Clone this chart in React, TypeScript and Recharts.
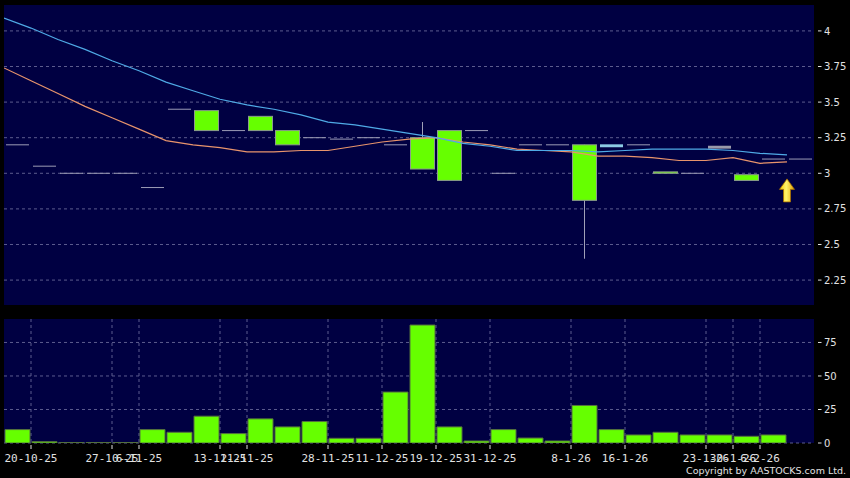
import React from "react";
import {
  ComposedChart,
  Bar,
  Line,
  XAxis,
  YAxis,
  CartesianGrid,
  ReferenceDot,
} from "recharts";

// slot index 0..29, one candle per slot
const opens = [3.2, 3.05, 3.0, 3.0, 3.0, 2.9, 3.45, 3.44, 3.3, 3.3, 3.3, 3.25, 3.24, 3.25, 3.2, 3.25, 2.95, 3.3, 3.0, 3.2, 3.2, 3.2, 3.2, 3.2, 3.01, 3.0, 3.19, 2.99, 3.1, 3.1];
const closes = [3.2, 3.05, 3.0, 3.0, 3.0, 2.9, 3.45, 3.3, 3.3, 3.4, 3.2, 3.25, 3.24, 3.25, 3.2, 3.03, 3.3, 3.3, 3.0, 3.2, 3.2, 2.81, 3.19, 3.2, 3.0, 3.0, 3.18, 2.95, 3.1, 3.1];
const highs = [3.2, 3.05, 3.0, 3.0, 3.0, 2.9, 3.45, 3.44, 3.3, 3.4, 3.3, 3.25, 3.24, 3.25, 3.2, 3.36, 3.3, 3.3, 3.0, 3.2, 3.2, 3.2, 3.2, 3.2, 3.01, 3.0, 3.19, 2.99, 3.1, 3.1];
const lows = [3.2, 3.05, 3.0, 3.0, 3.0, 2.9, 3.45, 3.3, 3.3, 3.3, 3.2, 3.25, 3.24, 3.25, 3.2, 3.03, 2.95, 3.3, 3.0, 3.2, 3.2, 2.4, 3.19, 3.2, 3.0, 3.0, 3.18, 2.95, 3.1, 3.1];
const volumes = [10, 1, 0.3, 0.3, 0.3, 10, 8, 20, 7, 18, 12, 16, 3.5, 3.5, 38, 88, 12, 1.5, 10, 3.7, 1.5, 28, 10, 6, 8, 6, 6, 5, 6, 0];

// moving averages, sampled at slot boundaries 0..29
const maBlue = [4.09, 4.02, 3.94, 3.87, 3.79, 3.72, 3.64, 3.58, 3.52, 3.48, 3.45, 3.41, 3.36, 3.34, 3.31, 3.28, 3.25, 3.21, 3.19, 3.16, 3.16, 3.16, 3.15, 3.16, 3.17, 3.17, 3.17, 3.16, 3.14, 3.13];
const maOrange = [3.74, 3.65, 3.56, 3.47, 3.39, 3.31, 3.23, 3.2, 3.18, 3.15, 3.15, 3.16, 3.16, 3.19, 3.22, 3.24, 3.25, 3.22, 3.2, 3.17, 3.16, 3.15, 3.12, 3.12, 3.11, 3.09, 3.09, 3.11, 3.07, 3.08];

const dateLabels = ["20-10-25", "27-10-25", "6-11-25", "13-11-25", "21-11-25", "28-11-25", "11-12-25", "19-12-25", "31-12-25", "8-1-26", "16-1-26", "23-1-26", "30-1-26", "6-2-26"];
const datePos = [1, 4, 5, 8, 9, 12, 14, 16, 18, 21, 23, 26, 27, 28];

const priceTicks = [2.25, 2.5, 2.75, 3, 3.25, 3.5, 3.75, 4];
const volTicks = [0, 25, 50, 75];

const P_MIN = 2.075;
const P_MAX = 4.182;
const V_MAX = 92.5;
const SLOTS = 30;

const candles = opens.map((o, i) => ({
  x: i + 0.5,
  open: o,
  close: closes[i],
  high: highs[i],
  low: lows[i],
  vol: volumes[i],
}));
const maData = maBlue.map((v, k) => ({ x: k, blue: v, orange: maOrange[k] }));

const thinBodyTint: Record<number, string> = { 22: "#8ccbe4", 26: "#9a9aaa" };

const PLOT_BG = "#000042";
const GRID = "#5c5c8e";
const TEXT = "#e2e2e2";
const GREEN = "#66ff00";
const TOP_MARGIN = { top: 5, right: 0, left: 4, bottom: 0 };

function CandleShape(props: any) {
  const { x, y, width, height, payload, index } = props;
  const top = Math.min(y, y + height);
  const bottom = Math.max(y, y + height);
  const per = (bottom - top) / (payload.high - P_MIN);
  const py = (v: number) => top + (payload.high - v) * per;
  const cx = x + width / 2;
  const hi = Math.max(payload.open, payload.close);
  const lo = Math.min(payload.open, payload.close);
  const bTop = py(hi);
  const bBot = py(lo);
  const parts: React.ReactNode[] = [];
  if (payload.high > hi || payload.low < lo) {
    parts.push(
      <line key="w" x1={cx} x2={cx} y1={py(payload.high)} y2={py(payload.low)} stroke="#a0a0b8" strokeWidth={1} />
    );
  }
  if (hi === lo) {
    parts.push(
      <line key="d" x1={x + 1} x2={x + width - 1} y1={bTop} y2={bTop} stroke="#9c9cb6" strokeWidth={1} />
    );
  } else if (thinBodyTint[index]) {
    parts.push(
      <rect key="t" x={x + 1} y={bTop - 0.5} width={width - 2} height={bBot - bTop + 1.5} fill={thinBodyTint[index]} />
    );
  } else {
    parts.push(
      <rect key="b" x={x + 0.5} y={bTop} width={width - 1} height={bBot - bTop} fill={GREEN} stroke="#8c9c8c" strokeWidth={1} />
    );
  }
  return <g>{parts}</g>;
}

function Arrow(props: any) {
  const { cx, cy } = props;
  const pts = [
    [cx, cy - 11.5],
    [cx + 7.5, cy - 1],
    [cx + 3.5, cy - 1],
    [cx + 3.5, cy + 11.5],
    [cx - 3.5, cy + 11.5],
    [cx - 3.5, cy - 1],
    [cx - 7.5, cy - 1],
  ]
    .map((p) => p.join(","))
    .join(" ");
  return (
    <g>
      <defs>
        <linearGradient id="arrowFill" x1="0" y1="0" x2="1" y2="0">
          <stop offset="0%" stopColor="#f7c800" />
          <stop offset="45%" stopColor="#fff36a" />
          <stop offset="100%" stopColor="#e0a000" />
        </linearGradient>
      </defs>
      <polygon points={pts} fill="url(#arrowFill)" stroke="#a87000" strokeWidth={0.8} />
    </g>
  );
}

function RightTick(props: any) {
  const { x, y, payload } = props;
  return (
    <g>
      <line x1={x + 4} x2={x + 7.5} y1={y} y2={y} stroke={TEXT} strokeWidth={1} />
      <text x={x + 10} y={y + 3.6} fill={TEXT} fontSize={10} fontFamily="DejaVu Sans" textAnchor="start">
        {String(payload.value)}
      </text>
    </g>
  );
}

function DateTick(props: any) {
  const { x, y, payload } = props;
  const i = datePos.indexOf(payload.value);
  return (
    <g>
      <line x1={x} x2={x} y1={y + 2} y2={y + 6} stroke={TEXT} strokeWidth={1} />
      <text x={x} y={y + 19} fill={TEXT} fontSize={11} fontFamily="DejaVu Sans Mono" textAnchor="middle">
        {i >= 0 ? dateLabels[i] : ""}
      </text>
    </g>
  );
}

function PriceAxes({ showTicks }: { showTicks: boolean }) {
  return null;
}

export default function App() {
  const priceX = (
    <XAxis
      type="number"
      dataKey="x"
      domain={[0, SLOTS]}
      ticks={datePos}
      allowDataOverflow
      height={0}
      tick={false}
      tickLine={false}
      axisLine={false}
    />
  );
  return (
    <div
      style={{
        position: "absolute",
        left: 0,
        top: 0,
        width: 850,
        height: 478,
        background: "#000",
        overflow: "hidden",
      }}
    >
      <div style={{ position: "relative", width: 850, height: 305 }}>
        <ComposedChart width={850} height={305} data={candles} margin={TOP_MARGIN}>
          <CartesianGrid
            fill={PLOT_BG}
            stroke={GRID}
            strokeDasharray="3 3"
            horizontalValues={priceTicks}
            verticalValues={datePos}
          />
          {priceX}
          <YAxis
            orientation="right"
            type="number"
            domain={[P_MIN, P_MAX]}
            ticks={priceTicks}
            allowDataOverflow
            width={36}
            axisLine={false}
            tickLine={false}
            tickSize={0}
            tickMargin={0}
            interval={0}
            tick={<RightTick />}
          />
          <Bar
            dataKey={(d: any) => [P_MIN, d.high]}
            barSize={25}
            shape={<CandleShape />}
            isAnimationActive={false}
          />
        </ComposedChart>
        <div style={{ position: "absolute", left: 0, top: 0 }}>
          <ComposedChart width={850} height={305} data={maData} margin={TOP_MARGIN}>
            {priceX}
            <YAxis
              orientation="right"
              type="number"
              domain={[P_MIN, P_MAX]}
              ticks={priceTicks}
              allowDataOverflow
              width={36}
              axisLine={false}
              tickLine={false}
              tick={false}
            />
            <Line
              dataKey="orange"
              type="linear"
              stroke="#e8946c"
              strokeWidth={1.2}
              dot={false}
              isAnimationActive={false}
            />
            <Line
              dataKey="blue"
              type="linear"
              stroke="#4faae6"
              strokeWidth={1.2}
              dot={false}
              isAnimationActive={false}
            />
            <ReferenceDot x={29} y={2.88} r={0} shape={<Arrow />} />
          </ComposedChart>
        </div>
      </div>
      <ComposedChart width={850} height={173} data={candles} margin={{ top: 14, right: 0, left: 4, bottom: 0 }}>
        <CartesianGrid
          fill={PLOT_BG}
          stroke={GRID}
          strokeDasharray="3 3"
          horizontalValues={volTicks}
          verticalValues={datePos}
        />
        <XAxis
          type="number"
          dataKey="x"
          domain={[0, SLOTS]}
          ticks={datePos}
          allowDataOverflow
          interval={0}
          height={35}
          axisLine={false}
          tickLine={false}
          tickSize={0}
          tickMargin={0}
          tick={<DateTick />}
        />
        <YAxis
          orientation="right"
          type="number"
          domain={[0, V_MAX]}
          ticks={volTicks}
          allowDataOverflow
          width={36}
          axisLine={false}
          tickLine={false}
          tickSize={0}
          tickMargin={0}
          interval={0}
          tick={<RightTick />}
        />
        <Bar dataKey="vol" barSize={25} fill={GREEN} stroke="#55703f" strokeWidth={1} isAnimationActive={false} />
      </ComposedChart>
      <div
        style={{
          position: "absolute",
          right: 4,
          top: 465,
          fontFamily: "DejaVu Sans",
          fontSize: 9.5,
          lineHeight: "11px",
          color: TEXT,
          whiteSpace: "nowrap",
        }}
      >
        Copyright by AASTOCKS.com Ltd.
      </div>
    </div>
  );
}
